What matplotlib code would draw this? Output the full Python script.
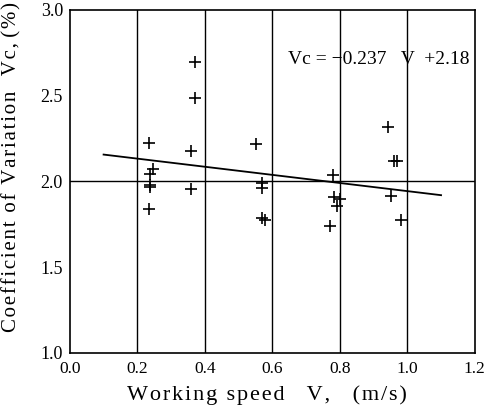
import numpy as np
import matplotlib.pyplot as plt

speed = [0.235, 0.247, 0.237, 0.237, 0.237, 0.234,
         0.358, 0.370, 0.370, 0.360,
         0.553, 0.568, 0.568, 0.568, 0.578,
         0.780, 0.783, 0.793, 0.800, 0.772,
         0.943, 0.961, 0.968, 0.951, 0.980]
cv = [2.225, 2.07, 2.04, 1.98, 1.965, 1.84,
      2.18, 2.696, 2.488, 1.957,
      2.22, 1.99, 1.96, 1.786, 1.772,
      2.035, 1.906, 1.854, 1.898, 1.737,
      2.316, 2.12, 2.12, 1.915, 1.776]

slope = -0.237
intercept = 2.18
fit_range = [0.1, 1.1]

xticks = [0.0, 0.2, 0.4, 0.6, 0.8, 1.0, 1.2]
yticks = [1.0, 1.5, 2.0, 2.5, 3.0]


def spaced(s):
    # wide letter spacing like the printed figure
    return "\u200a".join(s)


plt.rcParams['font.family'] = ['Liberation Serif', 'DejaVu Serif']

fig = plt.figure(figsize=(4.85, 4.09), dpi=100)
ax = fig.add_axes([0.144, 0.1376, 0.835, 0.838])

for x in xticks[1:-1]:
    ax.axvline(x, color='black', lw=1.0, zorder=1)
ax.axhline(2.0, color='black', lw=1.0, zorder=1)

ax.plot(speed, cv, linestyle='none', marker='+', markersize=9,
        markeredgewidth=1.2, color='black', zorder=3)

fx = np.array(fit_range)
ax.plot(fx, slope * fx + intercept, color='black', lw=1.3, zorder=2)

ax.text(0.645, 2.71, "Vc = \u22120.237   V  +2.18", fontsize=14,
        ha='left', va='center')

ax.set_xlim(0, 1.2)
ax.set_ylim(1.0, 3.0)
ax.set_xticks(xticks)
ax.set_yticks(yticks)
ax.set_xticklabels([f"{t:.1f}" for t in xticks])
ax.set_yticklabels([f"{t:.1f}" for t in yticks])
ax.tick_params(length=0)
ax.tick_params(axis='x', pad=6, labelsize=12.5)
ax.tick_params(axis='y', pad=5, labelsize=13)
for s in ax.spines.values():
    s.set_linewidth(1.2)

ax.set_xlabel(spaced("Working speed") + "    " + spaced("V,") + "    " + spaced("(m/s)"),
              fontsize=16)
ax.set_ylabel(spaced("Coefficient of Variation") + "   " + spaced("Vc,") + " " + spaced("(%)"),
              fontsize=15)
ax.xaxis.set_label_coords(0.487, -0.096)
ax.yaxis.set_label_coords(-0.12, 0.543)

fig.savefig("out.png", dpi=100)
